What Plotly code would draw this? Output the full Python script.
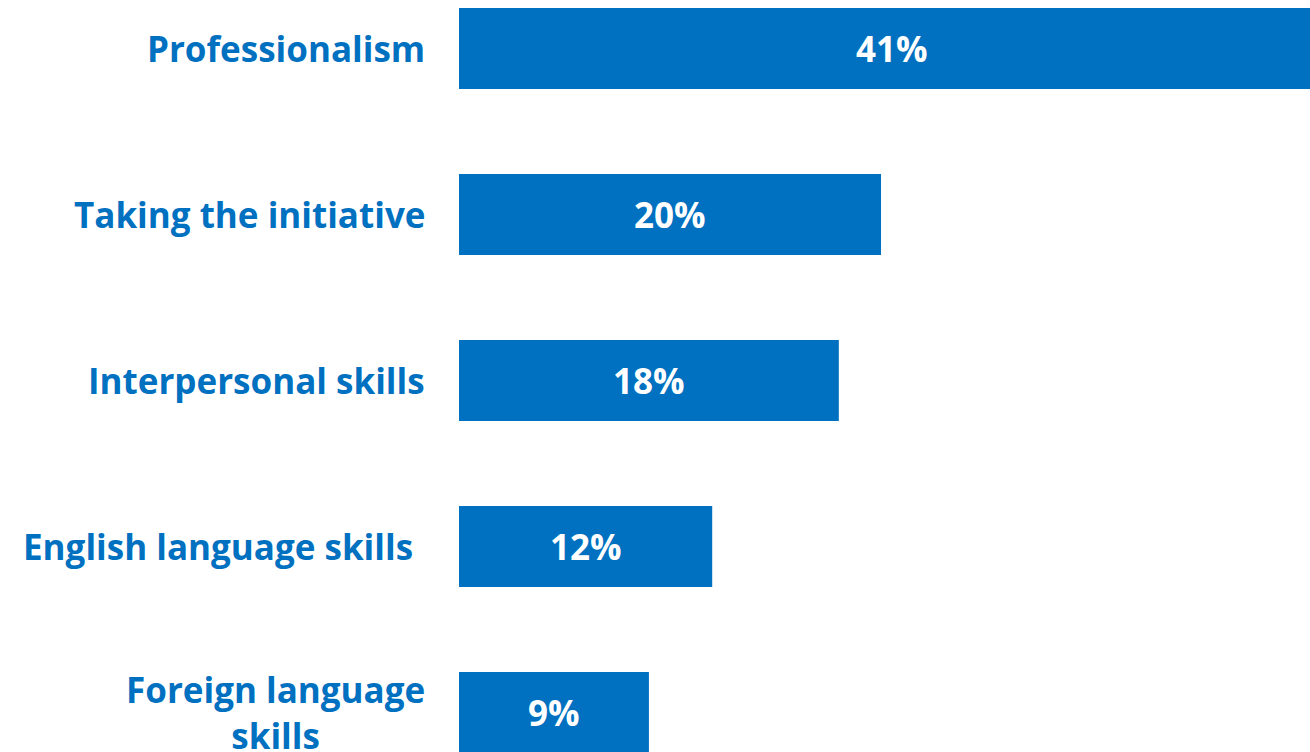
import plotly.graph_objects as go

# Survey results: share of respondents naming each skill
categories = [
    "Professionalism",
    "Taking the initiative",
    "Interpersonal skills",
    "English language skills",
    "Foreign language<br>skills",
]
values = [41, 20, 18, 12, 9]
value_labels = ["41%", "20%", "18%", "12%", "9%"]

BLUE = "#0070C0"
FONT = "'Open Sans', Lato, sans-serif"

fig = go.Figure(
    go.Bar(
        x=values,
        y=categories,
        orientation="h",
        marker=dict(color=BLUE, line=dict(width=0)),
        hoverinfo="skip",
    )
)

# Percentages centred on each bar
for cat, val, lab in zip(categories, values, value_labels):
    fig.add_annotation(
        x=val / 2, y=cat, xref="x", yref="y",
        text=f"<b>{lab}</b>", showarrow=False,
        font=dict(family=FONT, size=35, color="white"),
        xanchor="center", yanchor="middle",
    )

# Category names to the left of the bars
label_shift = {3: -44}
for i, cat in enumerate(categories):
    fig.add_annotation(
        x=0, y=cat, xref="paper", yref="y",
        text=f"<b>{cat}</b>", showarrow=False,
        font=dict(family=FONT, size=35, color=BLUE),
        xanchor="right", yanchor="middle", align="center",
        xshift=label_shift.get(i, -32),
    )

fig.update_layout(
    width=1310, height=752,
    margin=dict(l=459, r=0, t=0, b=0),
    paper_bgcolor="white", plot_bgcolor="white",
    bargap=0.512,
    showlegend=False,
    xaxis=dict(range=[0, 40.33], visible=False, fixedrange=True),
    yaxis=dict(
        type="category",
        categoryorder="array", categoryarray=categories,
        range=[4.238, -0.292],
        showticklabels=False, showgrid=False, zeroline=False,
        fixedrange=True,
    ),
)

fig.write_html("out.html", config={"displayModeBar": False})
